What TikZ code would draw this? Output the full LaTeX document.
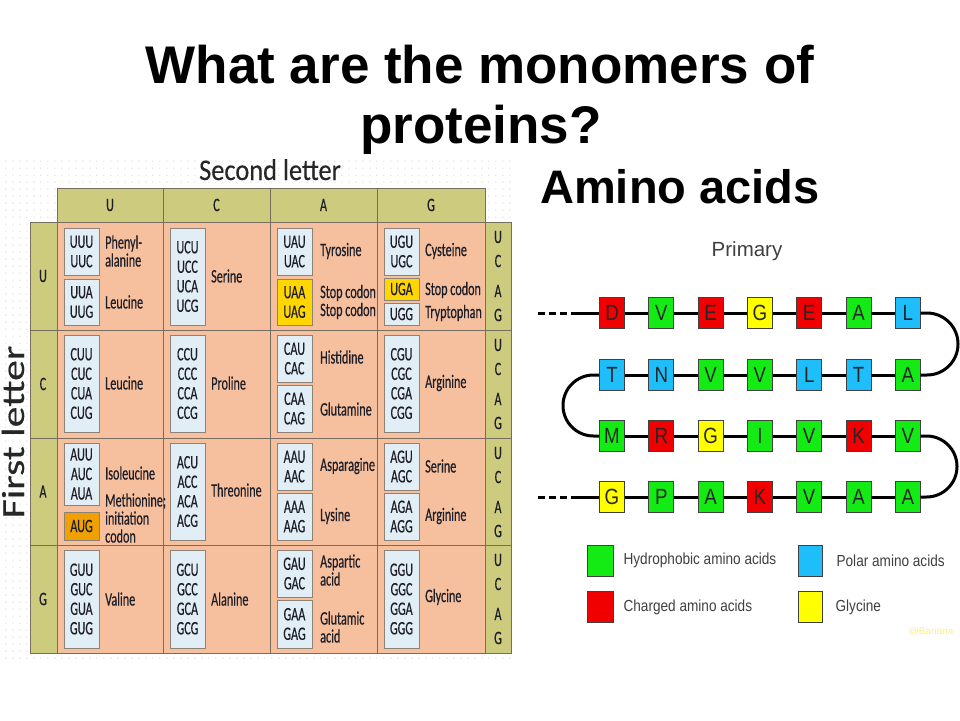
\documentclass[tikz,border=0pt]{standalone}
\usepackage{fontspec}
\setmainfont{Liberation Sans}
\newfontfamily\tabfont[FakeStretch=0.64,FakeBold=0.4]{Carlito}
\newfontfamily\headfont[FakeStretch=0.88,FakeBold=0.3]{Carlito}
\newfontfamily\sidefont[FakeStretch=1.3,FakeBold=0.3]{Carlito}
\newfontfamily\chainfont[FakeStretch=0.85]{Liberation Sans}
\usepackage{tikz}
\usetikzlibrary{positioning}
\usetikzlibrary{patterns.meta}
\definecolor{headolive}{RGB}{205,203,125}
\definecolor{bodysalmon}{RGB}{246,192,158}
\definecolor{codonblue}{RGB}{226,238,246}
\definecolor{stopyellow}{RGB}{255,214,0}
\definecolor{augorange}{RGB}{240,160,0}
\definecolor{gridline}{RGB}{120,110,95}
\definecolor{boxline}{RGB}{140,130,120}
\definecolor{cellink}{RGB}{30,30,40}
\definecolor{aared}{RGB}{240,0,0}
\definecolor{aagreen}{RGB}{20,235,20}
\definecolor{aablue}{RGB}{30,190,250}
\definecolor{aayellow}{RGB}{255,255,0}
\definecolor{creditink}{RGB}{255,236,140}
\tikzdeclarepattern{name=dotgrid,type=uncolored,bottom left={(-1pt,-1pt)},top right={(6pt,6pt)},tile size={(7pt,7pt)},code={\fill (0pt,0pt) circle (0.6pt);}}
\tikzset{headcell/.style={draw=gridline,fill=headolive,line width=0.8pt},bodycell/.style={draw=gridline,fill=bodysalmon,line width=0.8pt},gridln/.style={draw=gridline,line width=0.8pt},codon/.style={draw=boxline,fill=codonblue,line width=0.8pt},codontxt/.style={font=\tabfont\fontsize{19}{19.5}\selectfont,align=center,text=cellink,inner sep=0pt},aaname/.style={anchor=west,font=\tabfont\fontsize{19}{18}\selectfont,align=left,text=cellink,inner sep=0pt},letter/.style={font=\tabfont\fontsize{19}{19}\selectfont,text=cellink,inner sep=0pt}}

\begin{document}
\begin{tikzpicture}[x=1pt,y=-1pt,chain/.style={line width=3pt,black},aa/.style={draw=black!75,line width=0.8pt,minimum width=25pt,minimum height=31pt,inner sep=0pt,font=\chainfont\fontsize{22}{22}\selectfont,text=black!85},legbox/.style={draw=black!75,line width=0.8pt,minimum width=26pt,minimum height=31pt},legtxt/.style={font=\chainfont\fontsize{16}{16}\selectfont,text=black!75,inner sep=0pt}]
\useasboundingbox (0,0) rectangle (960,720);
\fill[white] (0,0) rectangle (960,720);
\node[anchor=base,font=\bfseries\fontsize{53}{60}\selectfont] (title1) at (480,83) {What are the monomers of};
\node[anchor=base,font=\bfseries\fontsize{53}{60}\selectfont] (title2) at (481,143) {proteins?};
\node[anchor=base,font=\bfseries\fontsize{47}{47}\selectfont] (answer) at (680,203) {Amino acids};
% codon table
\fill[pattern=dotgrid,pattern color=gray!45] (0,155) rectangle (515,662);
\node[anchor=base,font=\headfont\fontsize{30}{30}\selectfont,text=black!85] (second) at (270,180) {Second letter};
\node[anchor=base,rotate=90,font=\sidefont\fontsize{32}{32}\selectfont,text=black!85] (first) at (24,432) {First letter};
\draw[headcell] (57,188) rectangle (485,222);
\foreach \x in {163,270,377} \draw[gridln] (\x,188) -- (\x,222);
\foreach \l/\x in {U/110,C/216.5,A/323.5,G/431} \node[letter] at (\x,205) {\l};
\draw[headcell] (30,222) rectangle (57,653);
\draw[headcell] (485,222) rectangle (511,653);
\draw[bodycell] (57,222) rectangle (485,653);
\foreach \x in {163,270,377} \draw[gridln] (\x,222) -- (\x,653);
\foreach \y in {330,438,545} \draw[gridln] (30,\y) -- (511,\y);
\foreach \l/\y in {U/276,C/384,A/491.5,G/599} \node[letter] at (43,\y) {\l};
\foreach \y in {222,330,438,545}
  \foreach \l/\d in {U/15,C/39,A/69,G/93}
    \node[letter] at (498,\y+\d) {\l};
% first letter U
\draw[codon] (64,228) rectangle node[codontxt] {UUU\\UUC} (99,275);
\draw[codon] (64,279) rectangle node[codontxt] {UUA\\UUG} (99,325);
\node[aaname] at (105,251) {Phenyl-\\alanine};
\node[aaname] at (105,302) {Leucine};
\draw[codon] (170,228) rectangle node[codontxt] {UCU\\UCC\\UCA\\UCG} (205,325);
\node[aaname] at (211,276) {Serine};
\draw[codon] (277,228) rectangle node[codontxt] {UAU\\UAC} (312,275);
\draw[codon,fill=stopyellow] (277,279) rectangle node[codontxt] {UAA\\UAG} (312,325);
\node[aaname] at (320,251) {Tyrosine};
\node[aaname] at (320,302) {Stop codon\\Stop codon};
\draw[codon] (384,228) rectangle node[codontxt] {UGU\\UGC} (419,275);
\draw[codon,fill=stopyellow] (384,278) rectangle node[codontxt] {UGA} (419,300);
\draw[codon] (384,303) rectangle node[codontxt] {UGG} (419,325);
\node[aaname] at (425,251) {Cysteine};
\node[aaname] at (425,290) {Stop codon};
\node[aaname] at (425,313) {Tryptophan};
% first letter C
\draw[codon] (64,335) rectangle node[codontxt] {CUU\\CUC\\CUA\\CUG} (99,432);
\node[aaname] at (105,383) {Leucine};
\draw[codon] (170,335) rectangle node[codontxt] {CCU\\CCC\\CCA\\CCG} (205,432);
\node[aaname] at (211,383) {Proline};
\draw[codon] (277,335) rectangle node[codontxt] {CAU\\CAC} (312,382);
\draw[codon] (277,385) rectangle node[codontxt] {CAA\\CAG} (312,432);
\node[aaname] at (320,357) {Histidine};
\node[aaname] at (320,409) {Glutamine};
\draw[codon] (384,335) rectangle node[codontxt] {CGU\\CGC\\CGA\\CGG} (419,432);
\node[aaname] at (425,383) {Arginine};
% first letter A
\draw[codon] (64,443) rectangle node[codontxt] {AUU\\AUC\\AUA} (99,505);
\draw[codon,fill=augorange] (64,512) rectangle node[codontxt] {AUG} (99,540);
\node[aaname] at (105,473) {Isoleucine};
\node[aaname] at (105,518) {Methionine;\\initiation\\codon};
\draw[codon] (170,443) rectangle node[codontxt] {ACU\\ACC\\ACA\\ACG} (205,540);
\node[aaname] at (211,490) {Threonine};
\draw[codon] (277,443) rectangle node[codontxt] {AAU\\AAC} (312,490);
\draw[codon] (277,493) rectangle node[codontxt] {AAA\\AAG} (312,540);
\node[aaname] at (320,466) {Asparagine};
\node[aaname] at (320,516) {Lysine};
\draw[codon] (384,443) rectangle node[codontxt] {AGU\\AGC} (419,490);
\draw[codon] (384,493) rectangle node[codontxt] {AGA\\AGG} (419,540);
\node[aaname] at (425,466) {Serine};
\node[aaname] at (425,516) {Arginine};
% first letter G
\draw[codon] (64,550) rectangle node[codontxt] {GUU\\GUC\\GUA\\GUG} (99,648);
\node[aaname] at (105,599) {Valine};
\draw[codon] (170,550) rectangle node[codontxt] {GCU\\GCC\\GCA\\GCG} (205,648);
\node[aaname] at (211,599) {Alanine};
\draw[codon] (277,550) rectangle node[codontxt] {GAU\\GAC} (312,597);
\draw[codon] (277,600) rectangle node[codontxt] {GAA\\GAG} (312,648);
\node[aaname] at (320,570) {Aspartic\\acid};
\node[aaname] at (320,627) {Glutamic\\acid};
\draw[codon] (384,550) rectangle node[codontxt] {GGU\\GGC\\GGA\\GGG} (419,648);
\node[aaname] at (425,597) {Glycine};
% primary structure
\node[font=\fontsize{20.5}{20.5}\selectfont,text=black!75] (primary) at (747,251) {Primary};
\foreach \lab/\col [count=\k] in {D/aared,V/aagreen,E/aared,G/aayellow,E/aared,A/aagreen,L/aablue}
  \node[aa,fill=\col] (a\k) at ({612+49.3*(\k-1)},313) {\lab};
\foreach \lab/\col [count=\k] in {T/aablue,N/aablue,V/aagreen,V/aagreen,L/aablue,T/aablue,A/aagreen}
  \node[aa,fill=\col] (b\k) at ({612+49.3*(\k-1)},375) {\lab};
\foreach \lab/\col [count=\k] in {M/aagreen,R/aared,G/aayellow,I/aagreen,V/aagreen,K/aared,V/aagreen}
  \node[aa,fill=\col] (c\k) at ({612+49.3*(\k-1)},436) {\lab};
\foreach \lab/\col [count=\k] in {G/aayellow,P/aagreen,A/aagreen,K/aared,V/aagreen,A/aagreen,A/aagreen}
  \node[aa,fill=\col] (d\k) at ({612+49.3*(\k-1)},497) {\lab};
\foreach \rw in {a,b,c,d}{
  \foreach \p/\q in {1/2,2/3,3/4,4/5,5/6,6/7}{
    \draw[chain] (\rw\p.east) -- (\rw\q.west);
  }
}
\coordinate (enda) at (578,313);
\coordinate (dota) at (538,313);
\coordinate (endd) at (578,497);
\coordinate (dotd) at (538,497);
\draw[chain] (enda) -- (a1.west);
\draw[chain,dash pattern=on 7pt off 4pt] (dota) -- (enda);
\draw[chain] (endd) -- (d1.west);
\draw[chain,dash pattern=on 7pt off 4pt] (dotd) -- (endd);
\draw[chain,rounded corners=31pt] (a7.east) -- (958,313) -- (958,375) -- (b7.east);
\draw[chain,rounded corners=30.5pt] (b1.west) -- (563,375) -- (563,436) -- (c1.west);
\draw[chain,rounded corners=30.5pt] (c7.east) -- (957,436) -- (957,497) -- (d7.east);
% legend
\node[legbox,fill=aagreen] (lhyd) at (600,560.5) {};
\node[legtxt,right=10pt of lhyd] (thyd) {Hydrophobic amino acids};
\node[legbox,fill=aared] (lcha) at (600,607) {};
\node[legtxt,right=10pt of lcha] (tcha) {Charged amino acids};
\node[legbox,fill=aablue,minimum width=24pt] (lpol) at (810,560.5) {};
\node[legtxt,right=14pt of lpol] (tpol) {Polar amino acids};
\node[legbox,fill=aayellow,minimum width=24pt] (lgly) at (810,607) {};
\node[legtxt,right=13pt of lgly] (tgly) {Glycine};
\node[font=\fontsize{10}{10}\selectfont,text=creditink] (credit) at (931,632) {@Banana};
\end{tikzpicture}
\end{document}
